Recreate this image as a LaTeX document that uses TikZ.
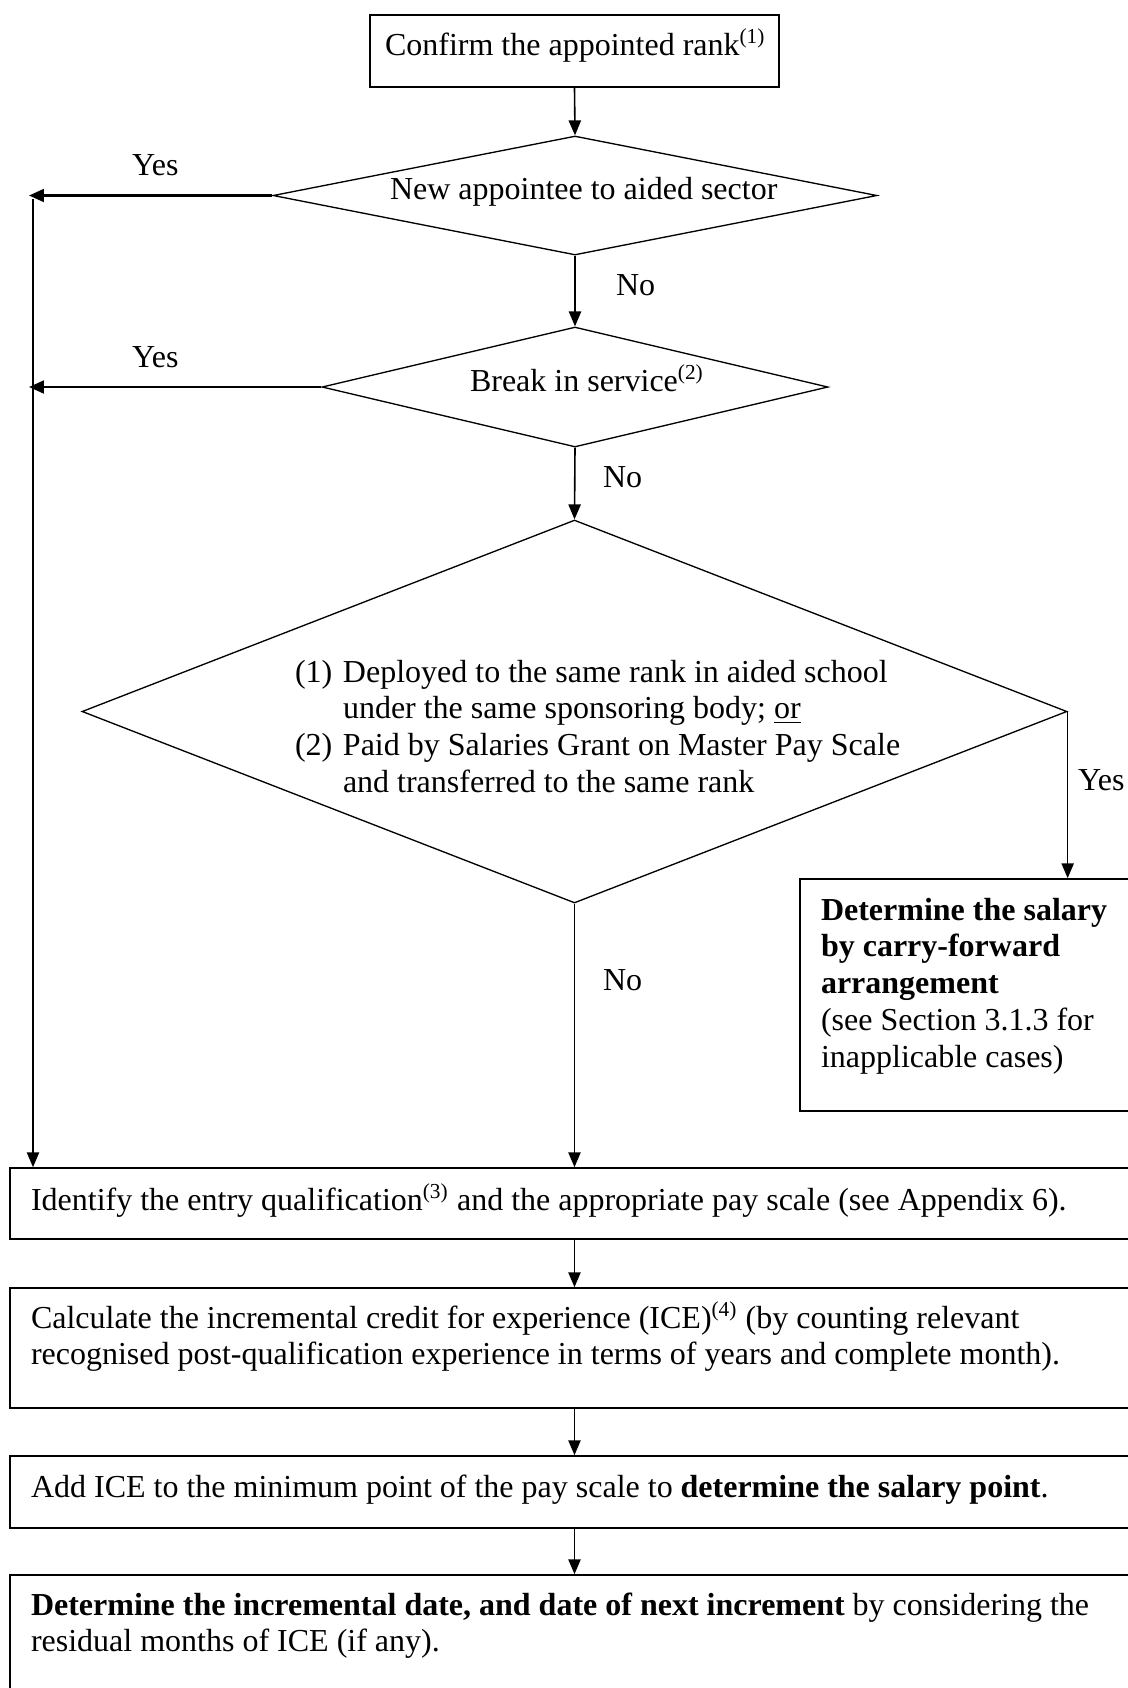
\documentclass[tikz,border=0pt]{standalone}
\usepackage{fontspec}
\setmainfont{Liberation Serif}
\usetikzlibrary{shapes.geometric,arrows.meta,fit}
\newcommand\pxu{0.375pt}
\begin{document}
\begin{tikzpicture}[x=0.375pt,y=-0.375pt,
  every node/.style={font=\fontsize{12}{13.8}\selectfont},
  txt/.style={anchor=base west, inner sep=0pt, outer sep=0pt},
  box/.style={draw, line width=0.6pt, inner sep=0pt},
  dia/.style={draw, diamond, line width=0.5pt, inner sep=0pt},
  arr/.style={line width=0.6pt, -{Triangle[length=5.6pt,width=4.6pt]}},
  yarr/.style={line width=0.9pt, -{Triangle[length=5.6pt,width=4.8pt]}}]

\useasboundingbox (0,0) rectangle (1128,1688);

% top box
\node[box, fit={(370,15)(779,87)}] (t) {};
\node[txt] (tt) at (385,55) {Confirm the appointed rank\textsuperscript{(1)}};

% diamonds
\node[dia, minimum width=604*\pxu, minimum height=119*\pxu] (d1) at (575,195.5) {};
\node[txt] (d1t) at (390,199) {New appointee to aided sector};

\node[dia, minimum width=506*\pxu, minimum height=120*\pxu] (d2) at (575,387) {};
\node[txt] (d2t) at (470,391) {Break in service\textsuperscript{(2)}};

\node[dia, minimum width=985*\pxu, minimum height=383*\pxu] (d3) at (574.5,711.5) {};
\node[txt] (d3t) at (295,682) {\begin{tabular}[t]{@{}p{18pt}@{}l@{}}
(1) & Deployed to the same rank in aided school\\
 & under the same sponsoring body; \underline{or}\\
(2) & Paid by Salaries Grant on Master Pay Scale\\
 & and transferred to the same rank
\end{tabular}};

% right box
\node[box, fit={(800,879)(1140,1111)}] (rb) {};
\node[txt] (rbt) at (821,920) {\begin{tabular}[t]{@{}l@{}}
\textbf{Determine the salary}\\
\textbf{by carry-forward}\\
\textbf{arrangement}\\
(see Section 3.1.3 for\\
inapplicable cases)
\end{tabular}};

% bottom boxes
\node[box, fit={(10,1168)(1140,1239)}] (b5) {};
\node[txt] (b5t) at (31,1210) {Identify the entry qualification\textsuperscript{(3)} and the appropriate pay scale (see Appendix 6).};

\node[box, fit={(10,1288)(1140,1408)}] (b6) {};
\node[txt] (b6t) at (31,1328) {\begin{tabular}[t]{@{}l@{}}
Calculate the incremental credit for experience (ICE)\textsuperscript{(4)} (by counting relevant\\
recognised post-qualification experience in terms of years and complete month).
\end{tabular}};

\node[box, fit={(10,1456)(1140,1528)}] (b7) {};
\node[txt] (b7t) at (31,1497) {Add ICE to the minimum point of the pay scale to \textbf{determine the salary point}.};

\node[box, fit={(10,1575)(1140,1700)}] (b8) {};
\node[txt] (b8t) at (31,1615) {\begin{tabular}[t]{@{}l@{}}
\textbf{Determine the incremental date, and date of next increment} by considering the\\
residual months of ICE (if any).
\end{tabular}};

% labels
\node[txt] (y1) at (132,175) {Yes};
\node[txt] (y2) at (132,367) {Yes};
\node[txt] (n1) at (616,295) {No};
\node[txt] (n2) at (603,487) {No};
\node[txt] (n3) at (603,990) {No};
\node[txt] (y3) at (1078,790) {Yes};

% connectors
\coordinate (Lx) at (29,0);
\coordinate (Vtop) at (33,199);
\draw[arr] (t.south) -- (d1.north);
\draw[arr] (d1.south) -- (d2.north);
\draw[arr] (d2.south) -- (d3.north);
\draw[arr] (d3.south) -- (d3.south |- b5.north);
\draw[arr] (d3.east) -- (d3.east |- rb.north);
\draw[yarr] (d1.west) -- (d1.west -| Lx);
\draw[yarr] (d2.west) -- (d2.west -| Lx);
\draw[arr] (Vtop) -- (Vtop |- b5.north);
\draw[arr] (b5.south -| t.south) -- (b6.north -| t.south);
\draw[arr] (b6.south -| t.south) -- (b7.north -| t.south);
\draw[arr] (b7.south -| t.south) -- (b8.north -| t.south);
\end{tikzpicture}
\end{document}
